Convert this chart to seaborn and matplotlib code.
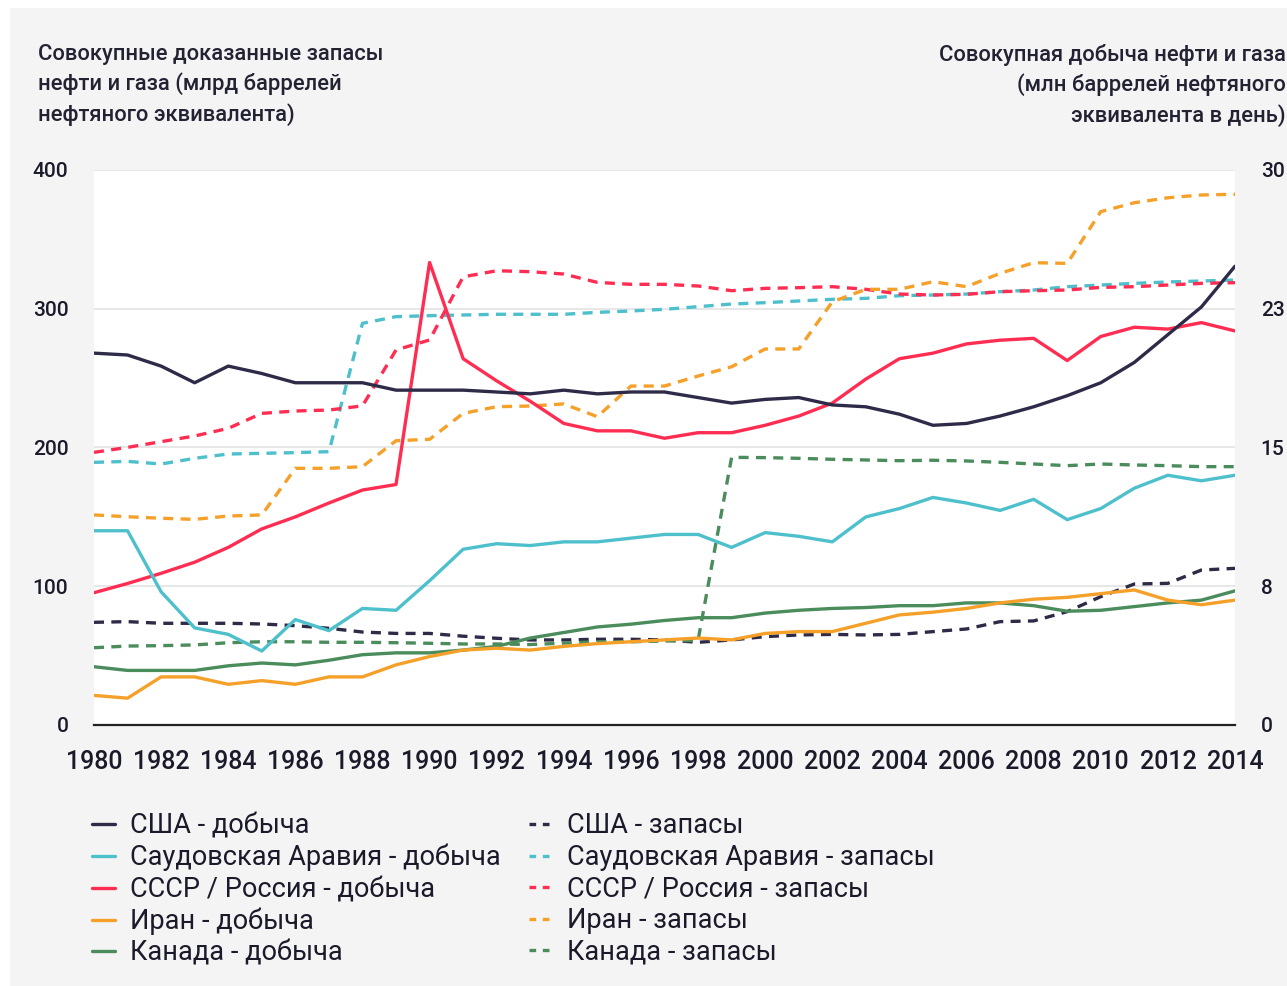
import numpy as np
import pandas as pd
import matplotlib.pyplot as plt
import matplotlib.patches as mpatches
from matplotlib.lines import Line2D
import seaborn as sns

years = list(range(1980, 2015))

# production, mln barrels of oil equivalent per day (right axis)
usa_prod = [20.1, 20.0, 19.4, 18.5, 19.4, 19.0, 18.5, 18.5, 18.5, 18.1, 18.1, 18.1, 18.0, 17.9, 18.1,
            17.9, 18.0, 18.0, 17.7, 17.4, 17.6, 17.7, 17.3, 17.2, 16.8, 16.2, 16.3, 16.7, 17.2, 17.8,
            18.5, 19.6, 21.1, 22.6, 24.8]
saudi_prod = [10.5, 10.5, 7.2, 5.25, 4.9, 4.0, 5.7, 5.1, 6.3, 6.2, 7.8, 9.5, 9.8, 9.7, 9.9,
              9.9, 10.1, 10.3, 10.3, 9.6, 10.4, 10.2, 9.9, 11.25, 11.7, 12.3, 12.0, 11.6, 12.2, 11.1,
              11.7, 12.8, 13.5, 13.2, 13.5]
russia_prod = [7.15, 7.65, 8.2, 8.8, 9.6, 10.6, 11.25, 12.0, 12.7, 13.0, 25.0, 19.8, 18.6, 17.5, 16.3,
               15.9, 15.9, 15.5, 15.8, 15.8, 16.2, 16.7, 17.4, 18.7, 19.8, 20.1, 20.6, 20.8, 20.9, 19.7,
               21.0, 21.5, 21.4, 21.75, 21.3]
iran_prod = [1.6, 1.45, 2.6, 2.6, 2.2, 2.4, 2.2, 2.6, 2.6, 3.25, 3.7, 4.05, 4.15, 4.05, 4.25,
             4.4, 4.5, 4.6, 4.7, 4.6, 4.95, 5.05, 5.05, 5.5, 5.95, 6.1, 6.3, 6.6, 6.8, 6.9,
             7.1, 7.3, 6.75, 6.5, 6.75]
canada_prod = [3.15, 2.95, 2.95, 2.95, 3.2, 3.35, 3.25, 3.5, 3.8, 3.9, 3.9, 4.05, 4.25, 4.7, 5.0,
               5.3, 5.45, 5.65, 5.8, 5.8, 6.05, 6.2, 6.3, 6.35, 6.45, 6.45, 6.6, 6.6, 6.45, 6.15,
               6.2, 6.4, 6.6, 6.75, 7.25]

# proven reserves, bn barrels of oil equivalent (left axis)
usa_res = [74, 74.5, 73.3, 73.3, 73.3, 72.8, 71.6, 69.7, 67, 66, 66, 64, 62.5, 61.3, 61.3,
           61.8, 61.8, 61.3, 59.6, 61.3, 63.7, 64.9, 65.3, 64.9, 65.3, 67.3, 69.2, 74.5, 75, 81.7,
           92.5, 101.6, 102.1, 111.7, 112.9]
saudi_res = [189.3, 190, 188.1, 192.2, 195.3, 195.8, 196.3, 197, 289.5, 294.3, 295, 295.5, 296, 296, 296,
             297.4, 298.4, 299.6, 301.5, 303.4, 304.4, 305.6, 306.8, 307.5, 309.4, 309.9, 310.6, 312.3, 313.5, 315.9,
             317.1, 318.3, 319.3, 320, 320.7]
russia_res = [196.5, 200.1, 204.2, 208.3, 213.8, 224.6, 226.3, 227, 230, 270.3, 277.5, 323, 327.4, 326.7, 325,
              319, 317.6, 317.6, 316.4, 313, 314.7, 315.2, 315.9, 314, 310.6, 309.9, 310.4, 312.3, 313, 313.5,
              315.4, 315.9, 317.1, 318.3, 318.8]
iran_res = [151.4, 150.1, 149, 148.2, 150.6, 151.4, 185, 185, 186.2, 204.9, 205.9, 224.6, 229.4, 229.9, 231.4,
            222.2, 244.3, 244.3, 251.5, 258.2, 271, 271, 305, 314, 314, 319.5, 315.9, 325.5, 333.2, 332.7,
            370, 376.4, 380, 382, 382.5]
canada_res = [55.7, 56.9, 57.2, 57.7, 59.3, 60, 60, 59.6, 59.6, 59.3, 58.9, 58.4, 58.4, 58, 59,
              60, 60, 60.5, 61, 192.9, 192.7, 192.2, 191.5, 191, 190.5, 190.8, 190.3, 189.3, 188.1, 186.9,
              188.1, 187.4, 186.9, 186.2, 186.2]

countries = ["США", "Саудовская Аравия", "СССР / Россия", "Иран", "Канада"]
colors = ["#2e2b48", "#4ec0cc", "#ff2d52", "#f5a029", "#4a8c5c"]
prod_series = [usa_prod, saudi_prod, russia_prod, iran_prod, canada_prod]
res_series = [usa_res, saudi_res, russia_res, iran_res, canada_res]

left_ticks = [0, 100, 200, 300, 400]
right_ticks = [0, 7.5, 15, 22.5, 30]
right_labels = ["0", "8", "15", "23", "30"]
x_ticks = list(range(1980, 2015, 2))

title_left = "Совокупные доказанные запасы\nнефти и газа (млрд баррелей\nнефтяного эквивалента)"
title_right = "Совокупная добыча нефти и газа\n(млн баррелей нефтяного\nэквивалента в день)"

sns.set_style("white")
plt.rcParams["font.family"] = ["Roboto", "DejaVu Sans"]

bg = "#f4f4f4"
txt = "#1a1a2a"
fig = plt.figure(figsize=(12.87, 9.86), dpi=100)
fig.patch.set_facecolor("white")
fig.patches.append(mpatches.Rectangle((10 / 1287, 0), 1, 1 - 8 / 986, transform=fig.transFigure,
                                      facecolor=bg, edgecolor="none", zorder=-10))

ax = fig.add_axes([94 / 1287, 261 / 986, (1235 - 94) / 1287, (725 - 170) / 986])
ax.set_facecolor("white")
ax2 = ax.twinx()

lw = 2.4
dash = (3.0, 2.2)

for name, col, vals in zip(countries, colors, res_series):
    df = pd.DataFrame({"year": years, "value": vals})
    sns.lineplot(data=df, x="year", y="value", ax=ax, color=col, lw=lw,
                 dashes=False, legend=False)
    ax.lines[-1].set_dashes(dash)

for name, col, vals in zip(countries[::-1], colors[::-1], prod_series[::-1]):
    df = pd.DataFrame({"year": years, "value": vals})
    sns.lineplot(data=df, x="year", y="value", ax=ax2, color=col, lw=lw, legend=False)

ax.set_xlim(1980, 2014)
ax.set_ylim(0, 400)
ax2.set_ylim(0, 30)
ax.set_yticks(left_ticks)
ax.set_yticklabels([str(t) for t in left_ticks], fontweight="medium")
ax2.set_yticks(right_ticks)
ax2.set_yticklabels(right_labels, fontweight="medium")
ax.set_xticks(x_ticks)
ax.set_xticklabels([str(t) for t in x_ticks], fontweight="medium")
ax.set_xlabel("")
ax.set_ylabel("")
ax2.set_ylabel("")

ax.grid(axis="y", color="#e3e3e3", lw=1.2)
ax.grid(axis="x", visible=False)
ax2.grid(False)
for a in (ax, ax2):
    for s in ("top", "left", "right", "bottom"):
        a.spines[s].set_visible(False)
ax.spines["bottom"].set_visible(True)
ax.spines["bottom"].set_color("#222222")
ax.spines["bottom"].set_linewidth(1.6)

ax.tick_params(axis="y", length=0, pad=18.5, labelsize=15, labelcolor=txt)
ax2.tick_params(axis="y", length=0, pad=18.5, labelsize=15, labelcolor=txt)
ax.tick_params(axis="x", length=0, pad=18, labelsize=18, labelcolor=txt)

fig.text(38 / 1287, 1 - 44 / 986, title_left, ha="left", va="top", fontsize=15.8,
         fontweight="medium", color="#222233", linespacing=1.42)
fig.text(1286 / 1287, 1 - 44 / 986, title_right, ha="right", va="top", fontsize=15.8,
         fontweight="medium", color="#222233", linespacing=1.42, multialignment="right")

handles = []
labels = []
for name, col in zip(countries, colors):
    handles.append(Line2D([], [], color=col, lw=lw))
    labels.append(f"{name} - добыча")
for name, col in zip(countries, colors):
    h = Line2D([], [], color=col, lw=lw)
    h.set_dashes((2.0, 2.0))
    handles.append(h)
    labels.append(f"{name} - запасы")

fig.legend(handles, labels, ncol=2, loc="upper left", bbox_to_anchor=(68 / 1287, 1 - 788 / 986),
           frameon=False, fontsize=19.5, handlelength=0.85, handletextpad=0.55, columnspacing=1.05,
           labelspacing=0.17, labelcolor=txt)

fig.savefig("out.png", dpi=100, facecolor=fig.get_facecolor())
